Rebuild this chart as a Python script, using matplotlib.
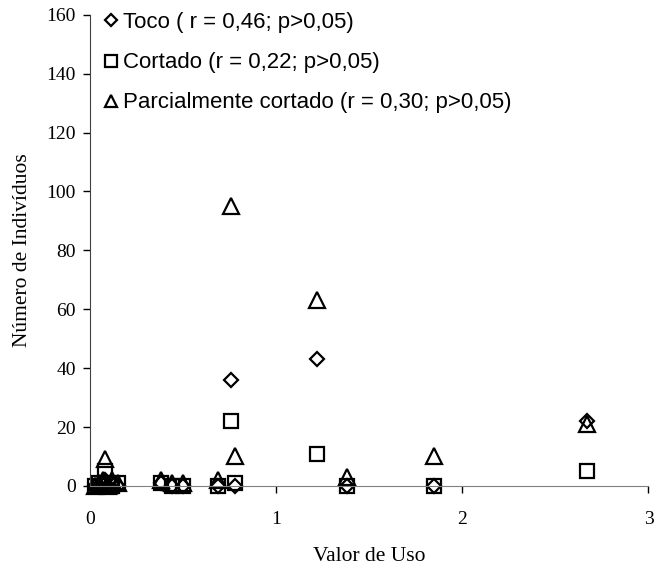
import matplotlib.pyplot as plt

# Valor de Uso (x) and number of individuals per category
valor_uso = [0.03, 0.05, 0.07, 0.08, 0.10, 0.12, 0.15, 0.38, 0.44, 0.50,
             0.69, 0.76, 0.78, 1.22, 1.38, 1.85, 2.67]
toco = [0, 0, 1, 2, 0, 1, 0, 1, 0, 0, 0, 36, 0, 43, 0, 0, 22]
cortado = [0, 1, 0, 5, 1, 0, 1, 1, 0, 0, 0, 22, 1, 11, 0, 0, 5]
parcial = [0, 1, 2, 9, 0, 2, 1, 2, 1, 1, 2, 95, 10, 63, 3, 10, 21]

labels = ['Toco ( r = 0,46; p>0,05)',
          'Cortado (r = 0,22; p>0,05)',
          'Parcialmente cortado (r = 0,30; p>0,05)']

fig = plt.figure(figsize=(6.55, 5.69), dpi=100)
ax = fig.add_axes([0.137, 0.146, 0.853, 0.828])

style = dict(linestyle='none', markerfacecolor='none', markeredgecolor='black',
             markeredgewidth=1.6, clip_on=False)
ax.plot(valor_uso, toco, marker='D', markersize=7.5, label=labels[0], **style)
ax.plot(valor_uso, cortado, marker='s', markersize=10.5, label=labels[1], **style)
ax.plot(valor_uso, parcial, marker='^', markersize=11, label=labels[2], **style)

ax.set_xlim(0, 3)
ax.set_ylim(0, 160)
ax.set_xticks([0, 1, 2, 3])
ax.set_yticks(range(0, 161, 20))
for s in ['top', 'right']:
    ax.spines[s].set_visible(False)
ax.spines['bottom'].set_color('#808080')
ax.spines['left'].set_color('#404040')
ax.tick_params(direction='out', length=5, width=1, labelsize=14,
               colors='black', pad=5)
ax.tick_params(axis='x', pad=13)
for t in ax.get_xticklabels() + ax.get_yticklabels():
    t.set_fontfamily('Liberation Serif')
ax.set_xlabel('Valor de Uso', family='Liberation Serif', fontsize=15.5, labelpad=14)
ax.set_ylabel('Número de Indivíduos', family='Liberation Serif', fontsize=15.5, labelpad=10)

ax.legend(loc='upper left', bbox_to_anchor=(0.139, 0.998), bbox_transform=fig.transFigure,
          frameon=False, prop={'family': 'Liberation Sans', 'size': 16},
          handlelength=0.8, handletextpad=0.15, labelspacing=0.86, borderpad=0,
          markerscale=0.85)

plt.savefig('out.png', dpi=100)
